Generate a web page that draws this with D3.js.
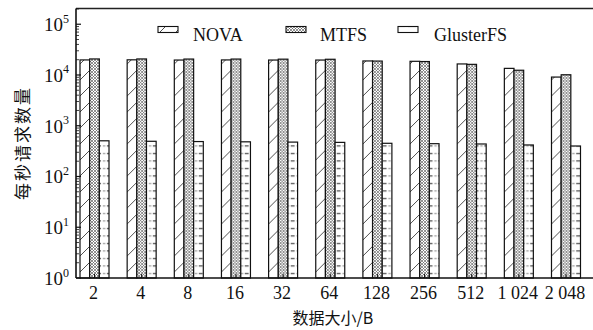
<!DOCTYPE html>
<html>
<head>
<meta charset="utf-8">
<script src="https://cdn.jsdelivr.net/npm/d3@7"></script>
<style>
  body { margin: 0; background: #fff; }
  text { font-family: "Liberation Serif", "Times New Roman", serif; fill: #111; }
  .cjk { font-family: "Noto Sans CJK SC", sans-serif; }
</style>
</head>
<body>
<svg id="chart" width="593" height="330"></svg>
<script>
const sizes = ["2", "4", "8", "16", "32", "64", "128", "256", "512", "1 024", "2 048"];
const seriesNames = ["NOVA", "MTFS", "GlusterFS"];
const nova = [19800, 19900, 19700, 19800, 19700, 19700, 18900, 18600, 16500, 13500, 9100];
const mtfs = [20700, 20700, 20600, 20600, 20500, 20400, 18800, 18400, 16200, 12400, 10100];
const gluster = [505, 494, 488, 482, 476, 470, 451, 443, 437, 418, 399];
const yExponents = [0, 1, 2, 3, 4, 5];

const svg = d3.select("#chart");
const plotLeft = 76, plotRight = 593, plotTop = 8.5, plotBottom = 278;

const x = d3.scaleBand().domain(sizes).range([plotLeft, 584.5])
  .paddingInner(0.385).paddingOuter(0.085);
const xs = d3.scaleBand().domain(seriesNames).range([0, x.bandwidth()]);
const y = d3.scaleLog().domain([1, Math.pow(10, 5.31)]).range([plotBottom, plotTop]);

const defs = svg.append("defs");

// NOVA: sparse diagonal hatch
const pNova = defs.append("pattern").attr("id", "p-nova")
  .attr("patternUnits", "userSpaceOnUse").attr("width", 16).attr("height", 16);
pNova.append("rect").attr("width", 16).attr("height", 16).attr("fill", "#fff");
pNova.append("path").attr("d", "M0,16L16,0M-4,4L4,-4M12,20L20,12")
  .attr("stroke", "#222").attr("stroke-width", 0.8);

// MTFS: fine cross hatch
const pMtfs = defs.append("pattern").attr("id", "p-mtfs")
  .attr("patternUnits", "userSpaceOnUse").attr("width", 3).attr("height", 3);
pMtfs.append("rect").attr("width", 3).attr("height", 3).attr("fill", "#fff");
pMtfs.append("path").attr("d", "M0,0L3,3M3,0L0,3")
  .attr("stroke", "#555").attr("stroke-width", 0.65);

// GlusterFS: rows of short dashes, one pattern per bar so it lines up
function glusterPattern(id, x0, w) {
  const p = defs.append("pattern").attr("id", id)
    .attr("patternUnits", "userSpaceOnUse").attr("x", x0).attr("y", 0)
    .attr("width", w).attr("height", 7.5);
  p.append("rect").attr("width", w).attr("height", 7.5).attr("fill", "#fff");
  p.append("line").attr("x1", w * 0.08).attr("x2", w * 0.35).attr("y1", 3.5).attr("y2", 3.5)
    .attr("stroke", "#888").attr("stroke-width", 1);
  p.append("line").attr("x1", w * 0.5).attr("x2", w * 0.9).attr("y1", 3.5).attr("y2", 3.5)
    .attr("stroke", "#222").attr("stroke-width", 1);
}

const data = sizes.map((s, i) => ({ size: s, values: [nova[i], mtfs[i], gluster[i]] }));

const groups = svg.append("g").selectAll("g").data(data).join("g")
  .attr("transform", d => `translate(${x(d.size)},0)`);

groups.each(function (d, gi) {
  const g = d3.select(this);
  seriesNames.forEach((name, si) => {
    const bx = xs(name), bw = xs.bandwidth();
    let fill = "url(#p-nova)";
    if (si === 1) fill = "url(#p-mtfs)";
    if (si === 2) {
      glusterPattern("p-gl-" + gi, x(d.size) + bx, bw);
      fill = `url(#p-gl-${gi})`;
    }
    g.append("rect")
      .attr("x", bx).attr("width", bw)
      .attr("y", y(d.values[si])).attr("height", plotBottom - y(d.values[si]))
      .attr("fill", fill).attr("stroke", "#111").attr("stroke-width", 1.2);
  });
});

// frame (top, left, bottom axis)
svg.append("line").attr("x1", plotLeft).attr("x2", plotRight).attr("y1", plotTop).attr("y2", plotTop)
  .attr("stroke", "#222").attr("stroke-width", 1.5);
svg.append("line").attr("x1", plotLeft).attr("x2", plotRight).attr("y1", plotBottom).attr("y2", plotBottom)
  .attr("stroke", "#111").attr("stroke-width", 1.6);
svg.append("line").attr("x1", plotLeft).attr("x2", plotLeft).attr("y1", plotTop).attr("y2", plotBottom)
  .attr("stroke", "#111").attr("stroke-width", 1.6);

// y ticks, inward, with log minor ticks
const yAxis = svg.append("g");
yExponents.forEach(e => {
  const v = Math.pow(10, e);
  yAxis.append("line").attr("x1", plotLeft).attr("x2", plotLeft + 5)
    .attr("y1", y(v)).attr("y2", y(v)).attr("stroke", "#111").attr("stroke-width", 1.2);
  for (let m = 2; m <= 9; m++) {
    const mv = m * v;
    if (y(mv) < plotTop) break;
    yAxis.append("line").attr("x1", plotLeft).attr("x2", plotLeft + 3)
      .attr("y1", y(mv)).attr("y2", y(mv)).attr("stroke", "#111").attr("stroke-width", 0.8);
  }
  const t = yAxis.append("text").attr("x", 44).attr("y", y(v) + 7)
    .attr("font-size", 19).text("10");
  t.append("tspan").attr("dy", -8.5).attr("font-size", 12).text(e);
});

// x ticks and labels
const xAxis = svg.append("g");
sizes.forEach(s => {
  const cx = x(s) + x.bandwidth() / 2;
  xAxis.append("line").attr("x1", cx).attr("x2", cx).attr("y1", plotBottom).attr("y2", plotBottom - 4)
    .attr("stroke", "#111").attr("stroke-width", 1);
  xAxis.append("text").attr("x", cx - 1).attr("y", 298.5).attr("text-anchor", "middle")
    .attr("font-size", 18).text(s);
});

// axis titles
svg.append("text").attr("class", "cjk").attr("x", 333).attr("y", 324)
  .attr("text-anchor", "middle").attr("font-size", 16).text("数据大小/B");
svg.append("text").attr("class", "cjk")
  .attr("transform", "translate(29,143) rotate(-90)")
  .attr("text-anchor", "middle").attr("font-size", 17).attr("letter-spacing", 2)
  .text("每秒请求数量");

// legend
const legendX = [158, 286, 398];
const legendTextX = [193, 320, 434];
const legendFills = ["url(#p-nova)", "url(#p-mtfs)", null];
const lg = svg.append("g");
seriesNames.forEach((name, i) => {
  let fill = legendFills[i];
  if (!fill) {
    glusterPattern("p-gl-legend", legendX[i], 20);
    fill = "url(#p-gl-legend)";
  }
  lg.append("rect").attr("x", legendX[i]).attr("y", 26.5).attr("width", 20).attr("height", 6)
    .attr("fill", fill).attr("stroke", "#111").attr("stroke-width", 1.1);
  lg.append("text").attr("x", legendTextX[i]).attr("y", 41).attr("font-size", 18).text(name);
});
</script>
</body>
</html>
